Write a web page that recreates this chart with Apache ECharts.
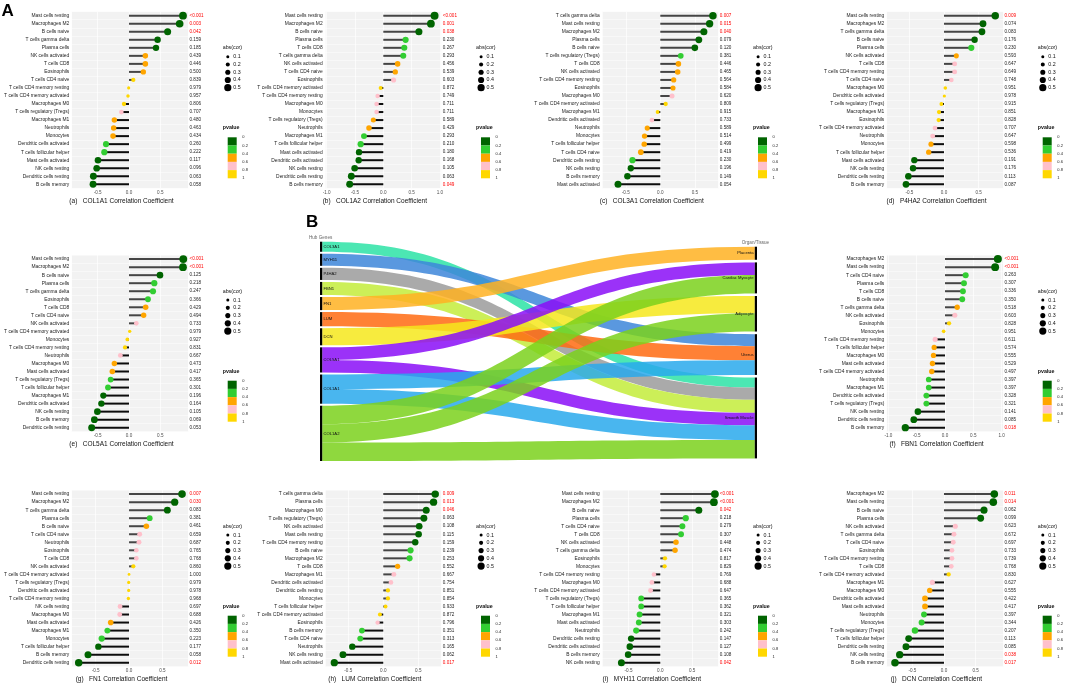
<!DOCTYPE html>
<html><head><meta charset="utf-8">
<script src="https://cdn.jsdelivr.net/npm/echarts@6/dist/echarts.min.js"></script>
<style>html,body{margin:0;padding:0;background:#fff}#c{width:1065px;height:683px}</style>
</head><body><div id="c"></div>
<script>
// ================= DATA =================
const cellsA = ["Mast cells resting","Macrophages M2","B cells naive","T cells gamma delta","Plasma cells","NK cells activated","T cells CD8","Eosinophils","T cells CD4 naive","T cells CD4 memory resting","T cells CD4 memory activated","Macrophages M0","T cells regulatory (Tregs)","Macrophages M1","Neutrophils","Monocytes","Dendritic cells activated","T cells follicular helper","Mast cells activated","NK cells resting","Dendritic cells resting","B cells memory"];
const corA = [0.862,0.809,0.617,0.457,0.431,0.261,0.261,0.229,0.069,-0.005,-0.016,-0.08,-0.122,-0.234,-0.245,-0.255,-0.367,-0.394,-0.495,-0.516,-0.569,-0.574];
const pA = ["<0.001","0.003","0.042","0.159","0.185","0.439","0.446","0.500","0.839","0.979","0.957","0.806","0.707","0.480","0.463","0.434","0.260","0.222","0.117","0.096","0.063","0.058"];

const cellsB = ["Mast cells resting","Macrophages M2","B cells naive","Plasma cells","T cells CD8","T cells gamma delta","NK cells activated","T cells CD4 naive","Eosinophils","T cells CD4 memory activated","T cells CD4 memory resting","Macrophages M0","Monocytes","T cells regulatory (Tregs)","Neutrophils","Macrophages M1","T cells follicular helper","Mast cells activated","Dendritic cells activated","NK cells resting","Dendritic cells resting","B cells memory"];
const corB = [0.906,0.841,0.629,0.394,0.371,0.353,0.253,0.212,0.182,-0.047,-0.1,-0.118,-0.118,-0.176,-0.253,-0.341,-0.4,-0.429,-0.435,-0.506,-0.565,-0.594];
const pB = ["<0.001","0.001","0.038","0.230","0.267","0.293","0.456","0.539","0.603","0.872","0.749","0.711","0.711","0.589","0.429","0.293","0.210","0.180","0.168","0.105","0.063","0.049"];

const cellsC = ["T cells gamma delta","Mast cells resting","Macrophages M2","Plasma cells","B cells naive","T cells regulatory (Tregs)","T cells CD8","NK cells activated","T cells CD4 memory resting","Eosinophils","Macrophages M0","T cells CD4 memory activated","Macrophages M1","Dendritic cells activated","Neutrophils","Monocytes","T cells follicular helper","T cells CD4 naive","Dendritic cells resting","NK cells resting","B cells memory","Mast cells activated"];
const corC = [0.762,0.714,0.631,0.558,0.5,0.296,0.262,0.252,0.194,0.184,0.17,0.078,-0.039,-0.121,-0.189,-0.228,-0.233,-0.282,-0.403,-0.427,-0.476,-0.612];
const pC = ["0.007","0.015","0.040","0.079","0.120","0.381","0.446","0.465","0.564","0.584","0.620","0.809","0.915","0.733","0.589","0.514","0.499","0.419","0.230","0.196","0.149","0.054"];

const cellsD = ["Mast cells resting","Macrophages M2","T cells gamma delta","B cells naive","Plasma cells","NK cells activated","T cells CD8","T cells CD4 memory resting","T cells CD4 naive","Macrophages M0","Dendritic cells activated","T cells regulatory (Tregs)","Macrophages M1","Eosinophils","T cells CD4 memory activated","Neutrophils","Monocytes","T cells follicular helper","Mast cells activated","NK cells resting","Dendritic cells resting","B cells memory"];
const corD = [0.74,0.563,0.548,0.442,0.394,0.178,0.154,0.154,0.106,0.019,0.005,-0.038,-0.072,-0.077,-0.13,-0.163,-0.188,-0.221,-0.428,-0.447,-0.514,-0.548];
const pD = ["0.009","0.074","0.083","0.176","0.230","0.593","0.647","0.649","0.748","0.951","0.978","0.915","0.851","0.828","0.707","0.647","0.598","0.536","0.191","0.176","0.113","0.087"];

const cellsE = ["Mast cells resting","Macrophages M2","B cells naive","Plasma cells","T cells gamma delta","Eosinophils","T cells CD8","T cells CD4 naive","NK cells activated","T cells CD4 memory activated","Monocytes","T cells CD4 memory resting","Neutrophils","Macrophages M0","Mast cells activated","T cells regulatory (Tregs)","T cells follicular helper","Macrophages M1","Dendritic cells activated","NK cells resting","B cells memory","Dendritic cells resting"];
const corE = [0.867,0.862,0.495,0.404,0.383,0.303,0.266,0.234,0.117,0.011,-0.027,-0.064,-0.138,-0.234,-0.266,-0.293,-0.335,-0.41,-0.441,-0.505,-0.553,-0.596];
const pE = ["<0.001","<0.001","0.125","0.218","0.247","0.366","0.429","0.494","0.733","0.979","0.927","0.831","0.667","0.473","0.417","0.365","0.301","0.196","0.164","0.105","0.069","0.053"];

const cellsF = ["Macrophages M2","Mast cells resting","T cells CD4 naive","Plasma cells","T cells CD8","B cells naive","T cells gamma delta","NK cells activated","Eosinophils","Monocytes","T cells CD4 memory resting","T cells follicular helper","Macrophages M0","Mast cells activated","T cells CD4 memory activated","Neutrophils","Macrophages M1","Dendritic cells activated","T cells regulatory (Tregs)","NK cells resting","Dendritic cells resting","B cells memory"];
const corF = [0.934,0.886,0.365,0.335,0.317,0.305,0.216,0.174,0.072,-0.024,-0.174,-0.192,-0.204,-0.222,-0.234,-0.287,-0.287,-0.329,-0.329,-0.479,-0.551,-0.701];
const pF = ["<0.001","<0.001","0.263","0.307","0.336","0.350","0.518","0.603","0.828","0.951","0.611","0.574","0.555","0.529","0.497","0.397","0.397","0.328","0.321","0.141","0.085","0.018"];

const cellsG = ["Mast cells resting","Macrophages M2","T cells gamma delta","Plasma cells","B cells naive","T cells CD4 naive","Neutrophils","Eosinophils","T cells CD8","NK cells activated","T cells CD4 memory activated","T cells regulatory (Tregs)","Dendritic cells activated","T cells CD4 memory resting","NK cells resting","Macrophages M0","Mast cells activated","Macrophages M1","Monocytes","T cells follicular helper","B cells memory","Dendritic cells resting"];
const corG = [0.795,0.685,0.575,0.31,0.26,0.16,0.15,0.11,0.11,0.065,0.0,-0.005,-0.005,-0.01,-0.135,-0.14,-0.275,-0.325,-0.41,-0.46,-0.615,-0.755];
const pG = ["0.007","0.030","0.083","0.381","0.461","0.659","0.687","0.765","0.768","0.860","1.000","0.979","0.978","0.968","0.697","0.688","0.426","0.350","0.223","0.177","0.058","0.012"];

const cellsH = ["T cells gamma delta","Plasma cells","Macrophages M0","T cells regulatory (Tregs)","NK cells activated","Mast cells resting","T cells CD4 memory resting","B cells naive","Macrophages M2","T cells CD8","Macrophages M1","Dendritic cells activated","Dendritic cells resting","Monocytes","T cells follicular helper","T cells CD4 memory activated","Eosinophils","B cells memory","T cells CD4 naive","Neutrophils","NK cells resting","Mast cells activated"];
const corH = [0.743,0.719,0.614,0.581,0.514,0.505,0.457,0.39,0.376,0.205,0.152,0.11,0.067,0.067,0.033,-0.048,-0.081,-0.305,-0.329,-0.443,-0.576,-0.7];
const pH = ["0.009","0.013","0.046","0.063","0.108","0.115","0.159","0.239","0.253","0.552","0.667","0.754","0.851","0.854","0.933","0.872","0.796","0.351","0.313","0.165","0.062","0.017"];

const cellsI = ["Mast cells resting","Macrophages M2","B cells naive","Plasma cells","T cells CD4 naive","T cells CD8","NK cells activated","T cells gamma delta","Eosinophils","Monocytes","T cells CD4 memory resting","Macrophages M0","T cells CD4 memory activated","T cells regulatory (Tregs)","T cells follicular helper","Macrophages M1","Mast cells activated","Neutrophils","Dendritic cells resting","Dendritic cells activated","B cells memory","NK cells resting"];
const corI = [0.858,0.842,0.605,0.4,0.347,0.326,0.247,0.232,0.074,0.068,-0.1,-0.132,-0.153,-0.3,-0.3,-0.326,-0.337,-0.379,-0.458,-0.479,-0.505,-0.611];
const pI = ["<0.001","<0.001","0.042","0.218","0.279","0.307","0.448","0.474","0.817","0.829","0.769","0.688","0.647","0.365","0.362","0.321","0.303","0.242","0.147","0.127","0.108","0.042"];

const cellsJ = ["Macrophages M2","Mast cells resting","B cells naive","Plasma cells","NK cells activated","T cells gamma delta","T cells CD4 naive","Eosinophils","T cells CD4 memory resting","T cells CD8","T cells CD4 memory activated","Macrophages M1","Macrophages M0","Dendritic cells activated","Mast cells activated","Neutrophils","Monocytes","T cells regulatory (Tregs)","T cells follicular helper","Dendritic cells resting","NK cells resting","B cells memory"];
const corJ = [0.795,0.779,0.632,0.579,0.179,0.158,0.147,0.126,0.126,0.116,0.074,-0.184,-0.226,-0.3,-0.3,-0.316,-0.353,-0.458,-0.558,-0.6,-0.7,-0.774];
const pJ = ["0.011","0.014","0.062","0.099","0.623","0.672","0.697","0.733","0.739","0.768","0.830","0.627","0.555","0.422","0.417","0.397","0.344","0.207","0.113","0.085","0.038","0.017"];

const sizeLegendValues = ["0.1","0.2","0.3","0.4","0.5"];
const pLegendTicks = ["0","0.2","0.4","0.6","0.8","1"];

// Sankey
const hubGenes = ["COL3A1","MYH11","P4HA2","FBN1","FN1","LUM","DCN","COL5A1","COL1A1","COL1A2"];
const tissues = ["Placenta","Cardiac Myocyte","Adipocyte","Uterus","Smooth Muscle"];
const sankeyLinks = [
  ["COL3A1","Smooth Muscle",10],
  ["MYH11","Uterus",12],
  ["P4HA2","Smooth Muscle",12],
  ["FBN1","Smooth Muscle",13],
  ["FN1","Placenta",13],
  ["LUM","Uterus",14],
  ["DCN","Adipocyte",17],
  ["COL5A1","Cardiac Myocyte",12.5],
  ["COL5A1","Smooth Muscle",12.5],
  ["COL1A1","Uterus",14.5],
  ["COL1A1","Smooth Muscle",14.5],
  ["COL1A2","Cardiac Myocyte",18.3],
  ["COL1A2","Adipocyte",18.3],
  ["COL1A2","Smooth Muscle",18.3]
];

// ================= STYLE / LAYOUT =================
const FONT = '"Liberation Sans", Arial, Helvetica, sans-serif';
const geneColors = {COL3A1:'#2de3a6',MYH11:'#3d86d9',P4HA2:'#9b9b9b',FBN1:'#c3ec3b',FN1:'#ffb222',LUM:'#ff6b12',DCN:'#f6e71c',COL5A1:'#8a0ef7',COL1A1:'#29a9ec',COL1A2:'#7bd11c'};
const pColors = ['#006400','#32CD32','#FFA500','#FFC0CB','#FFD700'];
function pNum(s){ return s.charAt(0)==='<' ? 0 : parseFloat(s); }
function pColor(s){ const v=pNum(s); return v<0.2?pColors[0]:v<0.4?pColors[1]:v<0.6?pColors[2]:v<0.8?pColors[3]:pColors[4]; }

const panels = [
  {tag:'(a)', gene:'COL1A1', cells:cellsA, cor:corA, p:pA, dx:0,     dy:0,     min:-0.915, max:0.947},
  {tag:'(b)', gene:'COL1A2', cells:cellsB, cor:corB, p:pB, dx:253.3, dy:0,     min:-1.03,  max:1.03},
  {tag:'(c)', gene:'COL3A1', cells:cellsC, cor:corC, p:pC, dx:530.3, dy:0,     min:-0.844, max:0.844},
  {tag:'(d)', gene:'P4HA2',  cells:cellsD, cor:corD, p:pD, dx:815,   dy:0,     min:-0.827, max:0.856},
  {tag:'(e)', gene:'COL5A1', cells:cellsE, cor:corE, p:pE, dx:0,     dy:243.4, min:-0.915, max:0.947},
  {tag:'(f)', gene:'FBN1',   cells:cellsF, cor:corF, p:pF, dx:815,   dy:243.4, min:-1.03,  max:1.03},
  {tag:'(g)', gene:'FN1',    cells:cellsG, cor:corG, p:pG, dx:0,     dy:478.4, min:-0.86,  max:0.889},
  {tag:'(h)', gene:'LUM',    cells:cellsH, cor:corH, p:pH, dx:253.3, dy:478.4, min:-0.833, max:0.834},
  {tag:'(i)', gene:'MYH11',  cells:cellsI, cor:corI, p:pI, dx:530.3, dy:478.4, min:-0.916, max:0.916},
  {tag:'(j)', gene:'DCN',    cells:cellsJ, cor:corJ, p:pJ, dx:815,   dy:478.4, min:-0.905, max:0.937}
];
const G = {left:71.7, top:11.7, width:116.6, height:176.6};

const grids=[], xAxes=[], yAxes=[], series=[], graphics=[];
function txt(t,x,y,size,opt){
  opt=opt||{};
  return {type:'text', x:x, y:y, silent:true, z:10,
    style:{text:t, fontSize:size, fontFamily:FONT, fontWeight:opt.bold?'bold':'normal',
      fill:opt.fill||'#222', align:opt.align||'left', verticalAlign:opt.va||'middle'}};
}
panels.forEach(function(P,i){
  grids.push({left:G.left+P.dx, top:G.top+P.dy, width:G.width, height:G.height, show:true,
    backgroundColor:'#f2f2f2', borderWidth:0, containLabel:false, outerBoundsMode:'none'});
  xAxes.push({type:'value', gridIndex:i, min:P.min, max:P.max, minInterval:0.5, maxInterval:0.5,
    axisLine:{show:false}, axisTick:{show:false},
    splitLine:{show:true, lineStyle:{color:'#ffffff', width:0.7}},
    axisLabel:{fontSize:4.6, color:'#4d4d4d', margin:2, fontFamily:FONT, showMinLabel:false, showMaxLabel:false,
      formatter:function(v){return v.toFixed(1);}}});
  yAxes.push({type:'category', gridIndex:i, data:P.cells, inverse:true,
    axisLine:{show:false}, axisTick:{show:false},
    splitLine:{show:true, lineStyle:{color:'#ffffff', width:0.5}},
    axisLabel:{interval:0, fontSize:4.9, color:'#222', margin:2.4, fontFamily:FONT}});
  yAxes.push({type:'category', gridIndex:i, data:P.cells, inverse:true, position:'right',
    axisLine:{show:false}, axisTick:{show:false}, splitLine:{show:false},
    axisLabel:{interval:0, margin:1.2, fontFamily:FONT,
      formatter:function(v,idx){ const s=P.p[idx]; return (pNum(s)<0.05?'{r|':'{n|')+s+'}'; },
      rich:{r:{color:'#ff0000', fontSize:4.6, fontFamily:FONT}, n:{color:'#222', fontSize:4.6, fontFamily:FONT}}}});
  series.push({type:'bar', xAxisIndex:i, yAxisIndex:2*i, barWidth:2, silent:true, z:2,
    data:P.cor.map(function(v){return {value:v, itemStyle:{color:v>=0?'#454545':'#0d0d0d'}};})});
  series.push({type:'scatter', xAxisIndex:i, yAxisIndex:2*i, silent:true, z:3,
    symbolSize:function(d){return 2.8+5.4*Math.sqrt(Math.abs(d[0]));},
    data:P.cor.map(function(v,k){return {value:[v,k], itemStyle:{color:pColor(P.p[k]), opacity:1}};})});
  // axis title
  graphics.push(txt(P.tag+'   '+P.gene+' Correlation Coefficient', 121.5+P.dx, 201+P.dy, 6.5, {align:'center', fill:'#111'}));
  // size legend
  graphics.push(txt('abs(cor)', 222.7+P.dx, 47.7+P.dy, 5.3, {fill:'#111'}));
  sizeLegendValues.forEach(function(s,k){
    const cy = 56.7+k*7.75+P.dy;
    graphics.push({type:'circle', silent:true, z:10, shape:{cx:227.8+P.dx, cy:cy, r:(3+k*1.05)/2}, style:{fill:'#000'}});
    graphics.push(txt(s, 233.3+P.dx, cy, 5.3, {fill:'#111'}));
  });
  // p legend
  graphics.push(txt('pvalue', 222.7+P.dx, 127.7+P.dy, 5.3, {bold:true, fill:'#111'}));
  pColors.forEach(function(c,k){
    graphics.push({type:'rect', silent:true, z:10, shape:{x:227.7+P.dx, y:137.3+P.dy+k*8.2, width:9, height:8.2}, style:{fill:c}});
  });
  pLegendTicks.forEach(function(s,k){
    graphics.push(txt(s, 242.3+P.dx, 137.3+P.dy+k*8.2, 4, {fill:'#222'}));
  });
});

graphics.push(txt('A', 1.5, 11, 17, {bold:true, fill:'#000'}));
graphics.push(txt('B', 306, 222, 17, {bold:true, fill:'#000'}));
graphics.push(txt('Hub Genes', 309, 237.7, 4.6, {fill:'#666'}));
graphics.push(txt('Organ/Tissue', 741.7, 242.7, 4.6, {fill:'#666'}));

// sankey layout: right column shifted down a little as in the reference
const SK = {left:320, top:241.7, width:437, height:219.3, gap:2};
const geneTotals = {}, tissueTotals = {};
sankeyLinks.forEach(function(l){ geneTotals[l[0]]=(geneTotals[l[0]]||0)+l[2]; tissueTotals[l[1]]=(tissueTotals[l[1]]||0)+l[2]; });
const sumGenes = hubGenes.reduce(function(s,g){return s+geneTotals[g];},0);
const ky = (SK.height-(hubGenes.length-1)*SK.gap)/sumGenes;
let cumY = 5;
const sNodes = hubGenes.map(function(g){return {name:g, itemStyle:{color:'#000'}, label:{position:'right'}};})
  .concat(tissues.map(function(t){
    const ly = cumY/SK.height; cumY += tissueTotals[t]*ky + SK.gap + 0.6;
    return {name:t, localY:ly, itemStyle:{color:'#000'}, label:{position:'left'}};
  }));
const sLinks = sankeyLinks.map(function(l){return {source:l[0], target:l[1], value:l[2], lineStyle:{color:geneColors[l[0]]}};});
series.push({type:'sankey', left:SK.left, top:SK.top, width:SK.width, height:SK.height, nodeWidth:2.2, nodeGap:SK.gap,
  layoutIterations:0, draggable:false, silent:true, emphasis:{disabled:true},
  data:sNodes, links:sLinks,
  itemStyle:{color:'#000', borderWidth:0},
  lineStyle:{opacity:0.85, curveness:0.5},
  label:{fontSize:4.2, color:'#111', distance:1.2, fontFamily:FONT}});

const chart = echarts.init(document.getElementById('c'), null, {renderer:'canvas'});
chart.setOption({animation:false, backgroundColor:'#ffffff', textStyle:{fontFamily:FONT},
  grid:grids, xAxis:xAxes, yAxis:yAxes, series:series, graphic:{elements:graphics}});
</script></body></html>
